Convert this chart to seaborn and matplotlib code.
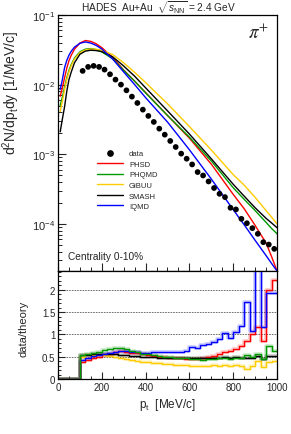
import matplotlib
matplotlib.use("Agg")
import matplotlib.pyplot as plt
import numpy as np
import pandas as pd
import seaborn as sns
from matplotlib.lines import Line2D
from matplotlib.ticker import FuncFormatter, LogLocator, MultipleLocator, NullFormatter

# measured spectrum (bin centres of 25 MeV/c bins, 100-1000 MeV/c)
data_y = [0.01574, 0.01798, 0.01858, 0.01798, 0.01643, 0.01407, 0.01180, 0.0100,
          0.00828, 0.00672, 0.00545, 0.00437, 0.00355, 0.00291, 0.00233, 0.00191,
          0.00155, 0.00127, 0.00102, 8.62e-4, 7.13e-4, 5.54e-4, 4.95e-4, 4.06e-4,
          3.27e-4, 2.70e-4, 2.42e-4, 1.70e-4, 1.61e-4, 1.18e-4, 1.02e-4, 8.67e-5,
          7.18e-5, 5.45e-5, 5.04e-5, 4.37e-5]

# model curves
model_pt = [10, 20, 30, 40, 50, 60, 75, 100, 125, 150, 175, 200, 250, 300, 350,
            400, 500, 600, 700, 800, 850, 900, 950, 975, 1000]
phsd = [0.0068, 0.0090, 0.0125, 0.0172, 0.0220, 0.0262, 0.0322, 0.0396, 0.0430,
        0.0418, 0.0385, 0.0340, 0.0245, 0.0162, 0.0112, 0.0077, 0.0036, 1.70e-3,
        7.2e-4, 2.65e-4, 1.65e-4, 9.5e-5, 5.3e-5, 3.4e-5, 2.1e-5]
phqmd = [0.0050, 0.0066, 0.0092, 0.0125, 0.0160, 0.0192, 0.0240, 0.0296, 0.0323,
         0.0330, 0.0318, 0.0295, 0.0235, 0.0160, 0.0112, 0.0076, 0.0036, 1.76e-3,
         8.0e-4, 3.3e-4, 2.25e-4, 1.55e-4, 1.05e-4, 8.6e-5, 7.2e-5]
gibuu = [0.0041, 0.0058, 0.0085, 0.0118, 0.0152, 0.0185, 0.0232, 0.0288, 0.0315,
         0.0325, 0.0322, 0.0312, 0.0270, 0.0205, 0.0150, 0.0107, 0.0053, 2.5e-3,
         1.15e-3, 5.1e-4, 3.6e-4, 2.4e-4, 1.55e-4, 1.25e-4, 1.0e-4]
smash = [0.0021, 0.0032, 0.0048, 0.0080, 0.0118, 0.0150, 0.0205, 0.0273, 0.0303,
         0.0312, 0.0308, 0.0298, 0.0250, 0.0185, 0.0132, 0.0090, 0.0042, 1.95e-3,
         8.6e-4, 3.7e-4, 2.5e-4, 1.7e-4, 1.2e-4, 1.03e-4, 8.8e-5]
iqmd = [0.0085, 0.0118, 0.0175, 0.0222, 0.0264, 0.0300, 0.0345, 0.0392, 0.0410,
        0.0395, 0.0365, 0.0325, 0.0232, 0.0152, 0.0100, 0.0065, 0.0029, 1.16e-3,
        4.4e-4, 1.6e-4, 9.7e-5, 5.8e-5, 3.5e-5, 2.7e-5, 2.1e-5]

# data/theory ratios, 25 MeV/c bins from 0 to 1000
ratio_edges = np.arange(0, 1001, 25)
r_phsd = [0, 0, 0, 0, 0.39, 0.43, 0.47, 0.50, 0.53, 0.57, 0.60, 0.62, 0.61, 0.59,
          0.58, 0.56, 0.53, 0.51, 0.50, 0.49, 0.48, 0.47, 0.46, 0.45, 0.45, 0.44,
          0.47, 0.49, 0.52, 0.56, 0.60, 0.63, 0.67, 0.75, 0.86, 1.00, 1.17, 0.86,
          2.00, 2.22]
r_phqmd = [0, 0, 0, 0, 0.53, 0.55, 0.58, 0.61, 0.65, 0.67, 0.69, 0.69, 0.67, 0.63,
           0.60, 0.57, 0.55, 0.53, 0.52, 0.50, 0.49, 0.48, 0.47, 0.46, 0.45, 0.44,
           0.43, 0.44, 0.45, 0.46, 0.47, 0.45, 0.47, 0.46, 0.53, 0.49, 0.57, 0.45,
           0.73, 0.62]
r_gibuu = [0, 0, 0, 0, 0.50, 0.53, 0.54, 0.54, 0.53, 0.51, 0.49, 0.47, 0.45, 0.43,
           0.41, 0.39, 0.38, 0.36, 0.35, 0.34, 0.33, 0.32, 0.31, 0.31, 0.30, 0.30,
           0.29, 0.30, 0.31, 0.30, 0.32, 0.29, 0.31, 0.30, 0.22, 0.30, 0.40, 0.27,
           0.38, 0.40]
r_smash = [0, 0, 0, 0, 0.53, 0.54, 0.55, 0.56, 0.56, 0.56, 0.55, 0.54, 0.53, 0.52,
           0.51, 0.50, 0.49, 0.49, 0.48, 0.48, 0.47, 0.47, 0.47, 0.46, 0.46, 0.46,
           0.47, 0.46, 0.48, 0.47, 0.50, 0.47, 0.49, 0.47, 0.48, 0.47, 0.52, 0.45,
           0.52, 0.52]
r_iqmd = [0, 0, 0, 0, 0.43, 0.47, 0.52, 0.53, 0.56, 0.58, 0.61, 0.62, 0.62, 0.61,
          0.60, 0.59, 0.59, 0.60, 0.61, 0.61, 0.60, 0.60, 0.61, 0.62, 0.72, 0.70,
          0.77, 0.79, 0.83, 0.90, 1.02, 0.91, 1.06, 1.19, 1.73, 1.08, 3.00, 1.16,
          1.92, 1.92]

models = ["PHSD", "PHQMD", "GiBUU", "SMASH", "IQMD"]
colors = {"PHSD": "#ff0000", "PHQMD": "#009900", "GiBUU": "#ffcc00",
          "SMASH": "#000000", "IQMD": "#0000ff"}

sns.set_theme(style="ticks")
plt.rcParams["font.family"] = ["Liberation Sans", "DejaVu Sans"]
plt.rcParams["mathtext.fontset"] = "custom"
plt.rcParams["mathtext.rm"] = "Liberation Sans"
plt.rcParams["mathtext.it"] = "Liberation Sans:italic"
plt.rcParams["axes.linewidth"] = 0.9

# long tables for seaborn
curves = pd.DataFrame({"pt": model_pt, "PHSD": phsd, "PHQMD": phqmd,
                       "GiBUU": gibuu, "SMASH": smash, "IQMD": iqmd})
curves = curves.melt(id_vars="pt", var_name="model", value_name="y")

centres = (ratio_edges[:-1] + ratio_edges[1:]) / 2
data_df = pd.DataFrame({"pt": centres[4:], "y": data_y})

ratio_vals = {"PHSD": r_phsd, "PHQMD": r_phqmd, "GiBUU": r_gibuu,
              "SMASH": r_smash, "IQMD": r_iqmd}
rows = []
for m, vals in ratio_vals.items():
    yy = list(vals) + [vals[-1]]
    for x, y in zip(ratio_edges, yy):
        rows.append((m, x, y))
ratio_df = pd.DataFrame(rows, columns=["model", "pt", "r"])

fig = plt.figure(figsize=(2.91, 4.35), dpi=100)
ax1 = fig.add_axes([0.1993, 0.3747, 0.7526, 0.5885])
ax2 = fig.add_axes([0.1993, 0.1264, 0.7526, 0.2483])

# upper panel
ax1.set_yscale("log")
sns.lineplot(data=curves, x="pt", y="y", hue="model", hue_order=models,
             palette=colors, lw=1.0, legend=False, ax=ax1)
sns.scatterplot(data=data_df, x="pt", y="y", color="black", s=17,
                edgecolor="none", ax=ax1, zorder=5)
ax1.set_xlim(0, 1000)
ax1.set_ylim(2.1e-5, 0.1)
ax1.yaxis.set_major_locator(LogLocator(base=10))
ax1.yaxis.set_minor_locator(LogLocator(base=10, subs=np.arange(2, 10)))
ax1.yaxis.set_minor_formatter(NullFormatter())
ax1.xaxis.set_major_locator(MultipleLocator(200))
ax1.xaxis.set_minor_locator(MultipleLocator(50))
ax1.tick_params(axis="both", which="major", direction="in", length=6,
                width=0.8, labelsize=8, pad=2)
ax1.tick_params(axis="both", which="minor", direction="in", length=3, width=0.7)
ax1.tick_params(axis="x", labelbottom=False)
ax1.set_xlabel("")
ax1.set_ylabel(r"d$^2$N/dp$_{\rm t}$dy [1/MeV/c]", fontsize=10)
ax1.yaxis.set_label_coords(-0.165, 0.70)

handles = [Line2D([], [], marker="o", color="black", ls="none", ms=3.8)]
handles += [Line2D([], [], color=colors[m], lw=1.0) for m in models]
ax1.legend(handles, ["data"] + models, loc="upper left",
           bbox_to_anchor=(97 / 291, 1 - 151 / 435), bbox_transform=fig.transFigure,
           frameon=False, fontsize=5.5, handlelength=3.4, handletextpad=0.8,
           labelspacing=0.42, borderpad=0, borderaxespad=0)

fig.text(0.234, 1 - 257 / 435, "Centrality 0-10%", fontsize=7.3, ha="left", va="center")
fig.text(0.89, 1 - 33 / 435, r"$\pi^{+}$", fontsize=13.5, ha="center", va="center",
         math_fontfamily="stix")
fig.text(0.543, 1 - 8 / 435, r"HADES  Au+Au  $\sqrt{s_{\rm NN}}$ = 2.4 GeV",
         fontsize=7.3, ha="center", va="center")

# lower panel
order = ["PHSD", "GiBUU", "SMASH", "IQMD", "PHQMD"]
sns.lineplot(data=ratio_df, x="pt", y="r", hue="model", hue_order=order,
             palette=colors, lw=2.6, alpha=0.22, drawstyle="steps-post",
             legend=False, ax=ax2)
sns.lineplot(data=ratio_df, x="pt", y="r", hue="model", hue_order=order,
             palette=colors, lw=1.0, drawstyle="steps-post", legend=False, ax=ax2)
ax2.set_xlim(0, 1000)
ax2.set_ylim(0, 2.42)
for yv in [0.5, 1.0, 1.5, 2.0]:
    ax2.axhline(yv, color="0.35", lw=0.6, ls=(0, (2, 1.2)), zorder=0)
ax2.xaxis.set_major_locator(MultipleLocator(200))
ax2.xaxis.set_minor_locator(MultipleLocator(50))
ax2.yaxis.set_major_locator(MultipleLocator(0.5))
ax2.yaxis.set_minor_locator(MultipleLocator(0.1))
ax2.yaxis.set_major_formatter(FuncFormatter(lambda v, p: f"{v:g}"))
ax2.tick_params(axis="both", which="major", direction="in", length=5,
                width=0.8, labelsize=7, pad=2)
ax2.tick_params(axis="both", which="minor", direction="in", length=2.5, width=0.7)
ax2.set_xlabel(r"p$_{\rm t}$  [MeV/c]", fontsize=8.5)
ax2.xaxis.set_label_coords(0.5, -0.16)
ax2.set_ylabel("data/theory", fontsize=8)
ax2.yaxis.set_label_coords(-0.135, 0.47)

for ax in (ax1, ax2):
    for s in ax.spines.values():
        s.set_color("black")

fig.savefig("out.png", dpi=100)
